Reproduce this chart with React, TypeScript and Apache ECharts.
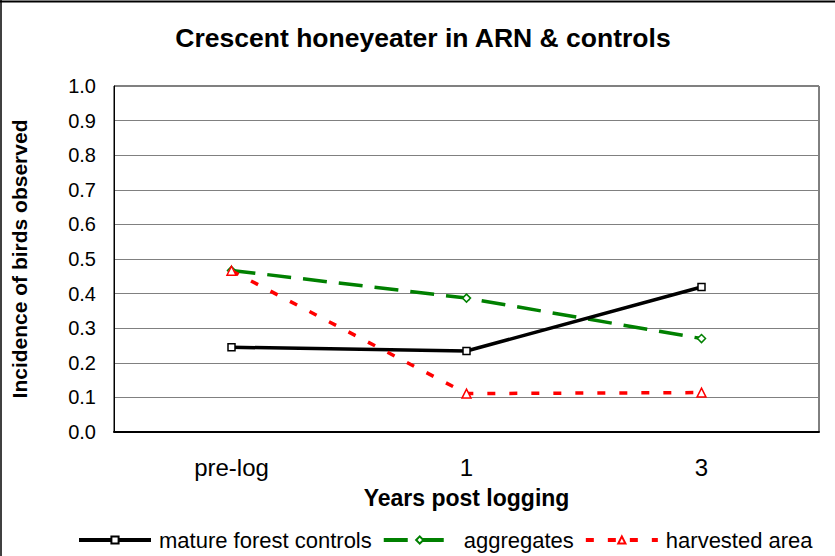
import React, { useEffect, useRef } from "react";
import * as echarts from "echarts";

const categories = ["pre-log", "1", "3"];
const yTicks = [0, 0.1, 0.2, 0.3, 0.4, 0.5, 0.6, 0.7, 0.8, 0.9, 1.0];
const matureForest = [0.245, 0.234, 0.419];
const aggregates = [0.467, 0.387, 0.27];
const harvested = [0.466, 0.111, 0.114];

const FONT = "'Liberation Sans', Arial, sans-serif";

export default function App() {
  const ref = useRef<HTMLDivElement>(null);
  useEffect(() => {
    document.body.style.margin = "0";
    const chart = echarts.init(ref.current!, null, { renderer: "svg" });
    chart.setOption({
      animation: false,
      backgroundColor: "#fff",
      textStyle: { fontFamily: FONT },
      title: {
        text: "Crescent honeyeater in ARN & controls",
        left: 418,
        textAlign: "center",
        top: 19,
        textStyle: { fontFamily: FONT, fontSize: 26.5, fontWeight: "bold", color: "#000" },
      },
      grid: { left: 114, right: 16, top: 86, bottom: 124, show: true, borderColor: "#000", borderWidth: 1 },
      legend: {
        left: 72,
        top: 524,
        itemWidth: 72,
        itemHeight: 9,
        itemGap: 10,
        lineStyle: { width: 4 },
        textStyle: { fontFamily: FONT, fontSize: 22, color: "#000", padding: [0, 0, 0, 3] },
        data: ["mature forest controls", "aggregates", "harvested area"],
      },
      xAxis: {
        type: "category",
        data: categories,
        boundaryGap: true,
        name: "Years post logging",
        nameLocation: "middle",
        nameGap: 54,
        nameTextStyle: { fontFamily: FONT, fontSize: 23, fontWeight: "bold", color: "#000" },
        axisLine: { lineStyle: { color: "#000", width: 2 } },
        axisTick: { inside: true, length: 8, lineStyle: { color: "#000", width: 1 } },
        axisLabel: { fontFamily: FONT, fontSize: 24, color: "#000", margin: 23 },
      },
      yAxis: {
        type: "value",
        min: 0,
        max: 1,
        interval: 0.1,
        name: "Incidence of birds observed",
        nameLocation: "middle",
        nameGap: 84,
        nameTextStyle: { fontFamily: FONT, fontSize: 21, fontWeight: "bold", color: "#000" },
        axisLine: { show: true, lineStyle: { color: "#000", width: 1 } },
        axisTick: { show: false },
        axisLabel: {
          fontFamily: FONT,
          fontSize: 20,
          color: "#000",
          margin: 18,
          formatter: (v: number) => {
            const m = yTicks.find((t) => Math.abs(t - v) < 1e-9);
            return (m ?? v).toFixed(1);
          },
        },
        splitLine: { lineStyle: { color: "#808080", width: 1 } },
      },
      graphic: [
        { type: "line", shape: { x1: 0, y1: 1.5, x2: 835, y2: 1.5 }, style: { stroke: "#000", lineWidth: 2 } },
        { type: "line", shape: { x1: 1, y1: 0, x2: 1, y2: 556 }, style: { stroke: "#000", lineWidth: 1.5 } },
      ],
      series: [
        {
          name: "mature forest controls",
          type: "line",
          data: matureForest,
          symbol: "rect",
          symbolSize: 7,
          color: "#000",
          lineStyle: { color: "#000", width: 3.5 },
          itemStyle: { color: "#fff", borderColor: "#000", borderWidth: 1.5 },
          z: 3,
        },
        {
          name: "aggregates",
          type: "line",
          data: aggregates,
          symbol: "diamond",
          symbolSize: 8,
          color: "#008000",
          lineStyle: { color: "#008000", width: 3.5, type: [24, 12] },
          itemStyle: { color: "#fff", borderColor: "#008000", borderWidth: 1.5 },
          z: 2,
        },
        {
          name: "harvested area",
          type: "line",
          data: harvested,
          symbol: "triangle",
          symbolSize: 9,
          color: "#ff0000",
          lineStyle: { color: "#ff0000", width: 3.5, type: [8, 14] },
          itemStyle: { color: "#fff", borderColor: "#ff0000", borderWidth: 1.5 },
          z: 4,
        },
      ],
    });
    return () => chart.dispose();
  }, []);
  return <div ref={ref} style={{ width: 835, height: 556 }} />;
}
